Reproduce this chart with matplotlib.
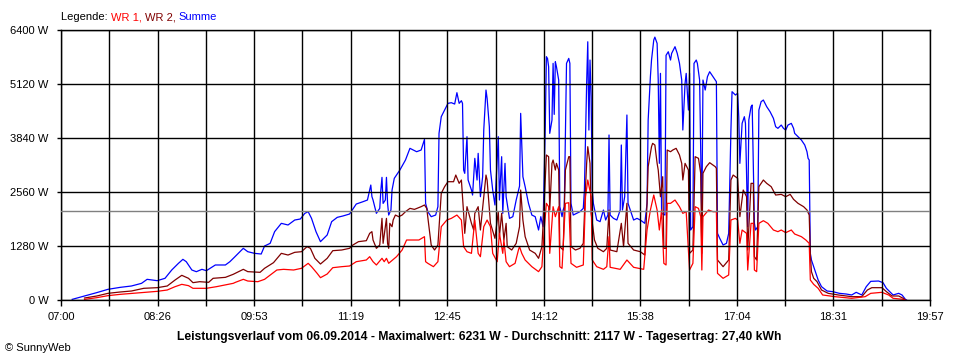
import matplotlib
matplotlib.use("Agg")
import matplotlib.pyplot as plt
import numpy as np

plt.rcParams["font.family"] = ["Liberation Sans", "DejaVu Sans"]

# (Minuten nach 07:00, Leistung in W)
summe = [
    (10, 15), (21, 95), (32, 175), (42, 253), (53, 300), (63, 332), (72, 395), (77, 490),
    (86, 458), (93, 514), (99, 711), (105, 869), (109, 964), (112, 908), (117, 711), (121, 671),
    (126, 727), (130, 695), (138, 830), (147, 830), (151, 908), (155, 1012), (163, 1225),
    (167, 1145), (173, 1106), (179, 1090), (182, 1280), (187, 1343), (191, 1620), (197, 1817),
    (203, 1778), (209, 1896), (214, 1920), (218, 2054), (221, 2093), (224, 1935), (228, 1620),
    (232, 1383), (238, 1541), (242, 1857), (247, 1959), (252, 1991), (258, 2038), (264, 2275),
    (270, 2330), (274, 2370), (276, 2607), (277, 2725), (278, 2450), (279, 2370), (282, 2054),
    (285, 2172), (286, 2607), (287, 2907), (288, 2290), (290, 2370), (291, 2907), (292, 2290),
    (293, 2014), (295, 2133), (296, 2607), (298, 2884), (300, 2962), (303, 3081), (308, 3318),
    (312, 3595), (315, 3555), (318, 3515), (322, 3555), (325, 3808), (326, 2290), (328, 2093),
    (331, 1975), (335, 2014), (337, 2212), (338, 3950), (340, 4345), (343, 4503), (346, 4661),
    (349, 4677), (352, 4645), (354, 4914), (356, 4661), (358, 4724), (359, 4661), (360, 3081),
    (361, 3002), (363, 3871), (364, 2844), (367, 2607), (368, 2488), (370, 3358), (372, 2844),
    (373, 3476), (375, 2449), (377, 2923), (378, 4029), (380, 4977), (381, 4780), (383, 4108),
    (384, 3081), (386, 2607), (388, 2252), (390, 3318), (391, 3871), (392, 2370), (394, 3397),
    (395, 2054), (397, 3239), (398, 2449), (401, 1935), (404, 1975), (407, 2370), (410, 2700),
    (411, 4424), (413, 2923), (415, 2686), (418, 2291), (421, 2014), (424, 1975), (427, 1659),
    (429, 1975), (431, 1738), (432, 2923), (433, 4108), (434, 5766), (435, 5727), (436, 5529),
    (437, 3950), (439, 4266), (440, 5609), (441, 4400), (442, 5648), (443, 5529), (444, 5372),
    (445, 5214), (446, 2212), (448, 1975), (449, 2133), (450, 2212), (452, 5609), (454, 5727),
    (455, 5609), (456, 2291), (458, 2014), (461, 2054), (464, 2093), (467, 2172), (468, 2607),
    (470, 5135), (471, 6121), (472, 4029), (473, 5688), (474, 4819), (475, 2607), (476, 2291),
    (479, 1896), (482, 1857), (485, 2133), (487, 1896), (489, 2014), (490, 3911), (491, 2014),
    (494, 1935), (497, 1896), (500, 2133), (501, 3674), (502, 2133), (504, 2449), (506, 4385),
    (507, 2291), (509, 2133), (512, 1896), (515, 1935), (518, 1896), (522, 1817), (524, 2291),
    (525, 4266), (527, 5293), (528, 5688), (530, 6162), (531, 6231), (533, 6083), (534, 5214),
    (535, 3239), (536, 5372), (537, 2054), (540, 2014), (541, 5800), (543, 5885), (545, 5688),
    (546, 5846), (549, 6004), (551, 5846), (553, 5609), (555, 5214), (556, 4029), (558, 5135),
    (559, 5372), (561, 4503), (562, 5372), (563, 1659), (565, 1738), (566, 5609), (568, 5688),
    (569, 5609), (571, 5214), (573, 1817), (574, 5214), (576, 4977), (578, 5293), (580, 5411),
    (583, 5293), (586, 5174), (587, 1580), (589, 1462), (592, 1304), (595, 1343), (597, 1580),
    (599, 4029), (600, 4938), (603, 4859), (605, 4898), (606, 4345), (607, 3239), (609, 4187),
    (611, 4345), (612, 4187), (614, 1738), (615, 4266), (617, 4582), (618, 4622), (620, 1817),
    (621, 1659), (623, 1738), (624, 4503), (626, 4701), (628, 4740), (631, 4582), (634, 4463),
    (637, 4306), (639, 4108), (641, 4069), (644, 4147), (646, 4069), (648, 4029), (650, 4147),
    (653, 4187), (655, 4069), (656, 3950), (659, 3871), (662, 3792), (665, 3674), (667, 3515),
    (668, 3358), (669, 3318), (670, 1106), (671, 948), (674, 711), (677, 474), (680, 316),
    (685, 213), (690, 198), (696, 158), (702, 142), (707, 119), (711, 182), (716, 119),
    (720, 316), (724, 442), (731, 450), (735, 411), (738, 277), (741, 198), (744, 119),
    (749, 158), (752, 119), (755, 16), (756, 0),
]

wr2 = [
    (21, 47), (32, 95), (42, 158), (53, 190), (63, 213), (74, 277), (86, 292), (95, 332),
    (102, 474), (108, 585), (114, 514), (118, 411), (124, 434), (132, 419), (136, 514),
    (147, 537), (154, 609), (163, 727), (167, 672), (178, 656), (182, 751), (190, 885),
    (197, 1106), (203, 1066), (209, 1130), (215, 1145), (220, 1264), (223, 1225), (227, 988),
    (232, 853), (238, 988), (243, 1169), (251, 1185), (258, 1225), (261, 1304), (266, 1383),
    (273, 1406), (276, 1580), (278, 1620), (279, 1422), (282, 1225), (285, 1304), (287, 1935),
    (288, 1343), (291, 1935), (292, 1343), (293, 1225), (294, 1817), (296, 1738), (297, 1896),
    (299, 2014), (302, 1975), (305, 2014), (308, 2093), (312, 2172), (316, 2148), (322, 2212),
    (325, 2252), (327, 2172), (331, 1304), (334, 1185), (337, 1304), (340, 2528), (343, 2686),
    (346, 2804), (351, 2804), (353, 2962), (356, 2765), (358, 2844), (360, 2054), (361, 1580),
    (363, 2212), (367, 1817), (369, 1659), (370, 2054), (373, 2212), (375, 1659), (378, 2449),
    (380, 2962), (381, 2844), (384, 1817), (388, 1462), (391, 2093), (392, 1501), (394, 2054),
    (396, 1422), (398, 1817), (399, 1264), (403, 1185), (407, 1343), (410, 1738), (411, 2607),
    (413, 1896), (415, 1501), (419, 1185), (424, 1106), (427, 988), (430, 1264), (432, 2291),
    (434, 3437), (436, 3397), (437, 2133), (439, 3239), (440, 3318), (442, 3081), (443, 3239),
    (445, 3081), (446, 1264), (449, 1185), (451, 3081), (454, 3397), (455, 3397), (456, 1264),
    (460, 1185), (464, 1225), (467, 1343), (469, 2686), (470, 3239), (471, 3634), (473, 3239),
    (474, 2054), (477, 1422), (480, 1225), (485, 1145), (488, 1225), (490, 2133), (491, 1185),
    (497, 1145), (501, 1817), (503, 1264), (506, 2291), (507, 1343), (512, 1185), (518, 1145),
    (522, 1066), (524, 2291), (525, 3160), (528, 3634), (529, 3713), (531, 3674), (533, 3239),
    (534, 3081), (536, 2449), (538, 2923), (539, 1225), (541, 1225), (542, 3555), (545, 3515),
    (547, 3555), (550, 3595), (553, 3437), (555, 3239), (556, 2844), (558, 3239), (561, 3081),
    (562, 1106), (565, 1185), (567, 3397), (570, 3358), (572, 3002), (573, 1106), (574, 3002),
    (577, 3160), (580, 3255), (585, 3160), (586, 3121), (587, 948), (592, 790), (597, 948),
    (599, 2844), (601, 2962), (605, 2884), (607, 1975), (610, 2607), (613, 2449), (614, 1185),
    (617, 2765), (619, 2765), (620, 1027), (622, 948), (624, 2686), (628, 2844), (631, 2765),
    (635, 2686), (639, 2488), (644, 2504), (648, 2449), (652, 2504), (655, 2386), (659, 2291),
    (664, 2212), (667, 2133), (669, 2014), (670, 1066), (671, 672), (673, 514), (676, 435),
    (680, 237), (686, 158), (695, 119), (707, 79), (716, 79), (721, 237), (725, 292),
    (734, 292), (738, 198), (743, 95), (749, 95), (753, 40), (755, 0),
]

wr1 = [
    (21, 15), (32, 55), (42, 103), (53, 134), (72, 174), (86, 205), (95, 237), (102, 316),
    (108, 371), (114, 340), (118, 277), (130, 277), (139, 316), (154, 395), (156, 419),
    (163, 490), (167, 450), (176, 434), (182, 490), (193, 711), (199, 727), (208, 711),
    (215, 751), (221, 869), (224, 790), (229, 632), (232, 529), (238, 616), (243, 766),
    (251, 790), (258, 806), (264, 908), (273, 948), (276, 1027), (279, 908), (282, 830),
    (287, 988), (289, 908), (291, 988), (293, 870), (300, 1027), (305, 1185), (309, 1422),
    (314, 1422), (320, 1422), (325, 1501), (326, 908), (328, 869), (333, 790), (337, 908),
    (340, 1738), (345, 1896), (349, 1935), (354, 2014), (358, 1896), (360, 1264), (363, 1145),
    (367, 1106), (370, 1896), (373, 1106), (375, 1027), (378, 1738), (381, 1896), (384, 1738),
    (386, 1106), (390, 908), (392, 1580), (395, 1106), (396, 1422), (398, 908), (401, 790),
    (406, 869), (409, 1185), (410, 1264), (412, 1106), (415, 948), (421, 790), (427, 672),
    (430, 790), (432, 1659), (434, 2291), (436, 2212), (437, 1106), (440, 2212), (442, 1975),
    (445, 2212), (446, 790), (448, 751), (451, 2291), (454, 2306), (456, 869), (461, 775),
    (467, 830), (469, 2449), (471, 2844), (474, 2449), (475, 948), (479, 790), (485, 727),
    (488, 790), (490, 1501), (491, 775), (500, 727), (506, 948), (512, 775), (521, 727),
    (524, 1659), (527, 2133), (530, 2488), (533, 2133), (535, 1659), (537, 2133), (539, 869),
    (541, 830), (542, 2291), (545, 2291), (549, 2370), (553, 2212), (556, 2054), (559, 2093),
    (562, 711), (565, 869), (567, 2212), (570, 2172), (572, 1975), (573, 711), (574, 1975),
    (579, 2133), (583, 2093), (586, 2093), (587, 632), (592, 514), (597, 593), (599, 1896),
    (603, 1935), (605, 1896), (607, 1343), (609, 1659), (613, 1580), (614, 711), (617, 1817),
    (619, 1817), (620, 711), (622, 672), (624, 1817), (628, 1880), (632, 1817), (637, 1659),
    (641, 1620), (644, 1659), (648, 1596), (653, 1659), (656, 1564), (662, 1501), (666, 1422),
    (669, 1343), (670, 474), (673, 371), (677, 277), (681, 119), (692, 79), (707, 40),
    (719, 79), (724, 158), (734, 182), (740, 119), (744, 40), (753, 16), (755, 0),
]

y_ticks = [0, 1280, 2560, 3840, 5120, 6400]
x_labels = ["07:00", "08:26", "09:53", "11:19", "12:45", "14:12", "15:38", "17:04", "18:31", "19:57"]
day_minutes = 777  # 07:00 bis 19:57
average_w = 2117
title = ("Leistungsverlauf vom 06.09.2014 - Maximalwert: 6231 W - "
         "Durchschnitt: 2117 W - Tagesertrag: 27,40 kWh")

fig = plt.figure(figsize=(9.6, 3.6), dpi=100)
ax = fig.add_axes([61 / 960, 60 / 360, 869 / 960, 270 / 360])

for series, color in [(summe, "#0000ff"), (wr2, "#800000"), (wr1, "#ff0000")]:
    t, p = zip(*series)
    ax.plot(t, p, color=color, lw=0.9, zorder=2)

ax.axhline(average_w, color="#808080", lw=1, zorder=3)

ax.set_xlim(0, day_minutes)
ax.set_ylim(0, 6400)
x_ticks = np.linspace(0, day_minutes, 19)
ax.set_xticks(x_ticks)
labels = [""] * len(x_ticks)
labels[::2] = x_labels
ax.set_xticklabels(labels)
ax.set_yticks(y_ticks)
ax.set_yticklabels([f"{v} W" for v in y_ticks])
ax.grid(True, color="black", lw=1, zorder=3)
ax.set_axisbelow(False)
for s in ax.spines.values():
    s.set_linewidth(1)
ax.tick_params(axis="x", length=4, width=1, pad=5, labelsize=8)
ax.tick_params(axis="y", length=3, width=1, pad=6, labelsize=8)

# Legende als Textkette
leg = fig.text(61 / 960, 1 - 17 / 360, "Legende: ", fontsize=8, va="center", color="black")
prev = leg
for txt, col in [("WR 1, ", "#ff0000"), ("WR 2, ", "#800000"), ("Summe", "#0000ff")]:
    prev = ax.annotate(txt, xy=(1, 0.5), xycoords=prev, va="center", ha="left",
                       fontsize=8, color=col, annotation_clip=False)

fig.text(479 / 960, 1 - 337 / 360, title, ha="center", va="center", fontsize=8.7, fontweight="bold")
fig.text(5 / 960, 1 - 348 / 360, "\u00a9 SunnyWeb", ha="left", va="center", fontsize=8)

fig.savefig("out.png", dpi=100)
